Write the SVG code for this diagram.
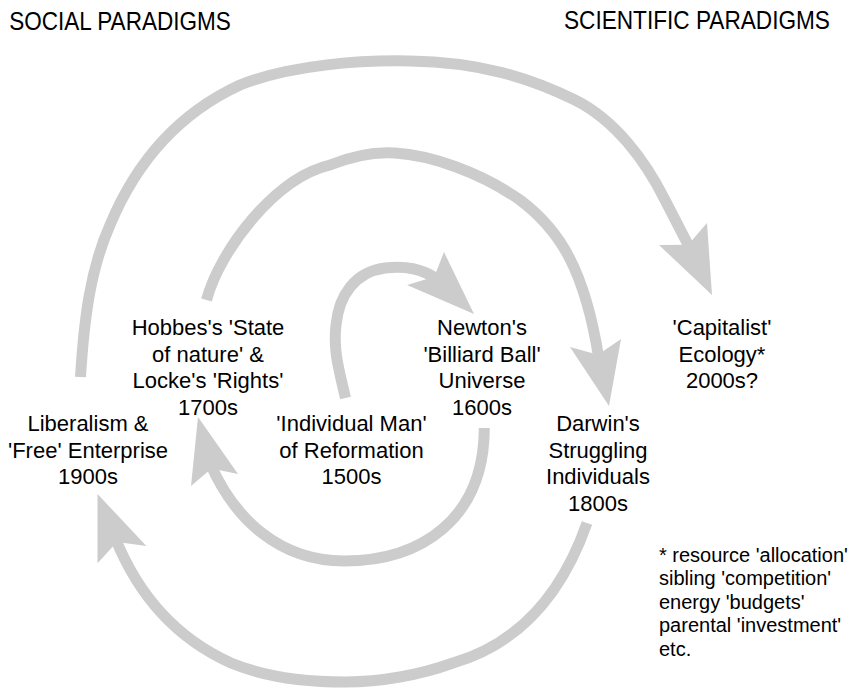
<svg xmlns="http://www.w3.org/2000/svg" width="856" height="692" viewBox="0 0 856 692">
<style>
  text { font-family: "Liberation Sans", Arial, sans-serif; fill: #000; }
  .hdr { font-size: 26px; }
  .lbl { font-size: 22px; text-anchor: middle; }
  .note { font-size: 20px; }
  .shaft { fill: none; stroke: #cccccc; stroke-width: 11; stroke-linecap: butt; stroke-linejoin: round; }
  .head { fill: #cccccc; stroke: none; }
</style>
<rect width="856" height="692" fill="#ffffff"/>
<g id="headers">
  <text class="hdr" transform="translate(9.3,30) scale(0.866,1)" x="0" y="0">SOCIAL PARADIGMS</text>
  <text class="hdr" transform="translate(564,28.5) scale(0.87,1)" x="0" y="0">SCIENTIFIC PARADIGMS</text>
</g>
<g id="connectors">
  <path class="shaft" d="M 345.5 398 C 339 370, 333 350, 336 325 C 339 295, 355 272, 385 268 C 405 266, 422 268, 438 280"/>
  <polygon class="head" points="474,314 444,252 434.3,276.7 407,285"/>
  <path class="shaft" d="M 484.3 428 C 484 520, 420 561, 344 561 C 280 561, 235 520, 210.2 463.6"/>
  <polygon class="head" points="198,417 238,474 211.5,468.4 191,486"/>
  <path class="shaft" d="M 206.5 300 C 220 250, 275 178, 330 165 C 360 153, 380 152, 395 153 C 430 155, 480 172, 520 200 C 560 230, 585 270, 599 359.5"/>
  <polygon class="head" points="609,406 570,347 598,354.7 621,339"/>
  <path class="shaft" d="M 80.5 377 C 84 320, 90 270, 110 225 C 135 165, 175 115, 240 85 C 290 65, 360 60, 410 61 C 480 62, 530 78, 575 100 C 615 120, 645 160, 665 200 L 690.4 249.3"/>
  <polygon class="head" points="712,295 659,245 688.2,244.8 707,223"/>
  <path class="shaft" d="M 587 523 C 560 600, 515 645, 453 663 C 420 675, 380 682, 346 682 C 300 682, 260 675, 231 663 C 180 640, 140 600, 115 537.5"/>
  <polygon class="head" points="97.5,494 146.4,546 117,542 97.5,563.3"/>
</g>
<g id="node-hobbes">
  <text class="lbl" x="208" y="335">Hobbes's 'State</text>
  <text class="lbl" x="208" y="361.7">of nature' &amp;</text>
  <text class="lbl" x="208" y="388.3">Locke's 'Rights'</text>
  <text class="lbl" x="208" y="415">1700s</text>
</g>
<g id="node-newton">
  <text class="lbl" x="482" y="335">Newton's</text>
  <text class="lbl" x="482" y="361.7">'Billiard Ball'</text>
  <text class="lbl" x="482" y="388.3">Universe</text>
  <text class="lbl" x="482" y="415">1600s</text>
</g>
<g id="node-capitalist">
  <text class="lbl" x="722" y="335">'Capitalist'</text>
  <text class="lbl" x="722" y="361.7">Ecology*</text>
  <text class="lbl" x="722" y="388">2000s?</text>
</g>
<g id="node-liberalism">
  <text class="lbl" x="88" y="431">Liberalism &amp;</text>
  <text class="lbl" x="88" y="457.7">'Free' Enterprise</text>
  <text class="lbl" x="88" y="484.3">1900s</text>
</g>
<g id="node-individual">
  <text class="lbl" x="351.5" y="431">'Individual Man'</text>
  <text class="lbl" x="351.5" y="457.7">of Reformation</text>
  <text class="lbl" x="351.5" y="484.3">1500s</text>
</g>
<g id="node-darwin">
  <text class="lbl" x="598" y="431">Darwin's</text>
  <text class="lbl" x="598" y="457.7">Struggling</text>
  <text class="lbl" x="598" y="484.3">Individuals</text>
  <text class="lbl" x="598" y="511">1800s</text>
</g>
<g id="footnote">
  <text class="note" x="659" y="561.7">* resource 'allocation'</text>
  <text class="note" x="659" y="585.2">sibling 'competition'</text>
  <text class="note" x="659" y="608.7">energy 'budgets'</text>
  <text class="note" x="659" y="632.2">parental 'investment'</text>
  <text class="note" x="659" y="655.7">etc.</text>
</g>
</svg>
